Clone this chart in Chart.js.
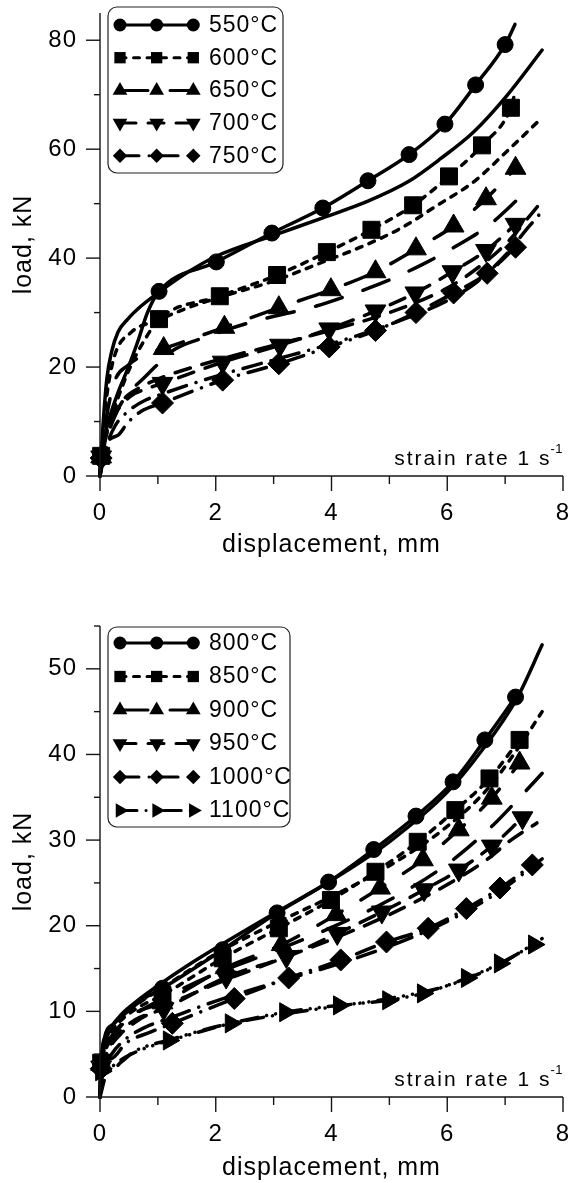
<!DOCTYPE html>
<html><head><meta charset="utf-8">
<script src="https://cdn.jsdelivr.net/npm/chart.js@4.4.1/dist/chart.umd.min.js"></script>
<style>html,body{margin:0;padding:0;background:#fff;width:576px;height:1183px;overflow:hidden}canvas{display:block}</style>
</head><body>
<canvas id="c1" width="576" height="591"></canvas>
<canvas id="c2" width="576" height="592"></canvas>
<script>
// ---------------- DATA ----------------
const temps1 = ['550°C','600°C','650°C','700°C','750°C'];
const temps2 = ['800°C','850°C','900°C','950°C','1000°C','1100°C'];
const xTickVals = [0,2,4,6,8];
const yTickVals1 = [0,20,40,60,80];
const yTickVals2 = [0,10,20,30,40,50];
const xMax = 8, yMax1 = 85, yMax2 = 55;
const xTitle = 'displacement, mm';
const yTitle = 'load, kN';
const noteText = 'strain rate 1 s';
const noteSup = '-1';

// top chart: measured curves (lead points without marker + marker points) and model curves
const ld550 = [[0,0],[0.12,9],[0.3,15],[0.48,19.7],[0.65,24.6],[0.82,30],[7.17,82.9]];
const mk550 = [[0.02,3.7],[1.02,33.9],[2.01,39.3],[2.97,44.6],[3.85,49.2],[4.63,54.2],[5.34,59.0],[5.96,64.6],[6.49,71.8],[7.0,79.2]];
const md550 = [[0,0],[0.05,9],[0.12,18],[0.2,22.8],[0.31,26.4],[0.48,28.8],[0.71,31.2],[1.0,33.6],[1.5,37.3],[2.0,40.3],[3.06,44.4],[3.85,47.4],[4.64,50.5],[5.32,54],[5.89,58.3],[6.45,63.1],[7.02,69.7],[7.64,78.2]];

const ld600 = [[0,0],[0.15,9],[0.3,14],[0.54,20.4],[0.8,25.5],[7.15,69.5]];
const mk600 = [[0.02,3.7],[1.02,28.8],[2.07,33],[3.06,36.9],[3.92,41.1],[4.69,45.2],[5.41,49.7],[6.03,55],[6.6,60.7],[7.1,67.6]];
const md600 = [[0,0],[0.05,8],[0.12,15],[0.25,22],[0.54,26.4],[1.0,28.6],[1.5,30.8],[2.0,32.6],[3.0,35.8],[3.9,39.5],[4.5,42],[5.2,45.5],[5.8,49.5],[6.48,54.2],[7.02,59.5],[7.64,65.8]];

const ld650 = [[0,0],[0.1,10],[0.25,17.3],[0.48,20.3],[0.76,22.2]];
const mk650 = [[0.02,3.5],[1.1,23.4],[2.15,27.3],[3.09,30.9],[3.99,34.2],[4.76,37.5],[5.46,41.7],[6.11,45.9],[6.67,50.9],[7.18,56.5]];
const md650 = [[0,0],[0.1,6],[0.3,12],[0.5,15.3],[0.74,17.8],[1.0,20.5],[1.3,23.3],[1.8,25.4],[2.63,28.3],[3.74,31.2],[4.36,33.4],[4.98,35.9],[5.6,39],[6.17,42.3],[6.74,46.2],[7.3,51.6]];

const ld700 = [[0,0],[0.12,8],[0.3,12],[0.55,14.8],[0.8,16]];
const mk700 = [[0.02,3.5],[1.08,17],[2.12,20.9],[3.11,24],[3.96,27],[4.76,30.3],[5.45,33.6],[6.09,37.5],[6.67,41.4],[7.18,46.2]];
const md700 = [[0,0],[0.08,6],[0.2,10.5],[0.4,14],[0.7,16.3],[1.0,17.8],[2.0,21.2],[3.0,24],[4.0,26.8],[5.0,30],[6.0,34.5],[6.5,38],[7.0,42.5],[7.6,50]];

const ld750 = [[0,0],[0.31,7.5],[0.48,9.8],[0.7,11.8]];
const mk750 = [[0.02,3.3],[1.08,13.4],[2.12,17.6],[3.09,20.6],[3.96,23.7],[4.76,26.7],[5.46,30],[6.11,33.6],[6.69,37.2],[7.18,42]];
const md750 = [[0,0],[0.1,5],[0.25,9],[0.5,12],[0.8,14],[1.0,14.8],[2.0,18.3],[3.0,21.3],[4.0,24.3],[5.0,27.8],[6.0,32.2],[6.5,35.5],[7.0,40.5],[7.42,45.9],[7.64,48.6]];

// bottom chart
const ld800 = [[0,0],[0.08,7],[0.25,8.6],[0.48,10],[0.76,11.5]];
const mk800 = [[0.02,4.1],[1.08,12.7],[2.12,17.2],[3.06,21.5],[3.95,25.1],[4.73,28.9],[5.46,32.8],[6.1,36.8],[6.65,41.7],[7.18,46.7]];
const md800 = [[0,0],[0.05,5],[0.15,7.5],[0.35,9.5],[0.6,11],[1.0,13],[1.5,15.3],[2.0,17.4],[3.0,21.4],[4.0,25.3],[5.0,29.8],[6.0,35.6],[6.6,40.5],[7.2,46.5],[7.64,52.8]];

const ld850 = [[0,0],[0.1,6.5],[0.3,8.5],[0.6,10.2]];
const mk850 = [[0.02,4.0],[1.08,11.9],[2.12,16.2],[3.09,19.7],[3.99,23],[4.76,26.3],[5.49,29.8],[6.14,33.5],[6.73,37.2],[7.25,41.7]];
const md850 = [[0,0],[0.05,4.5],[0.15,7],[0.35,9],[0.6,10.6],[1.0,12.4],[2.0,16.7],[3.0,20.2],[4.0,23.4],[5.0,27],[6.0,31.6],[6.7,36],[7.2,40.5],[7.64,45]];

const ld900 = [[0,0],[0.1,6],[0.3,8],[0.6,9.8]];
const mk900 = [[0.02,3.8],[1.08,11],[2.17,15.1],[3.14,17.8],[4.08,21.3],[4.84,24.4],[5.58,27.7],[6.2,31.2],[6.77,34.9],[7.25,39]];
const md900 = [[0,0],[0.05,4],[0.15,6.3],[0.35,8.2],[0.6,9.6],[1.0,11.2],[2.0,14.4],[3.0,17],[4.0,19.8],[5.0,23],[6.0,27.2],[6.8,31.8],[7.2,34.6],[7.64,37.8]];

const ld950 = [[0,0],[0.12,5.5],[0.3,7.3],[0.6,9]];
const mk950 = [[0.02,3.5],[1.1,10.3],[2.18,14],[3.22,16.4],[4.1,19.1],[4.87,21.6],[5.6,24.2],[6.2,26.5],[6.77,29.3],[7.3,32.6]];
const md950 = [[0,0],[0.05,3.5],[0.15,5.5],[0.35,7.3],[0.6,8.7],[1.0,10.2],[2.0,13.2],[3.0,15.8],[4.0,18.4],[5.0,21.3],[6.0,24.8],[6.7,27.8],[7.1,30],[7.55,32]];

const ld1000 = [[0,0],[0.2,4.5],[0.45,6.3],[0.88,7.6]];
const mk1000 = [[0.02,3.3],[1.25,8.6],[2.32,11.5],[3.26,13.9],[4.16,16],[4.95,18.1],[5.67,19.7],[6.33,22],[6.91,24.4],[7.47,27.1]];
const md1000 = [[0,0],[0.05,3],[0.2,5],[0.45,6.8],[0.8,8.2],[1.2,9.2],[2.0,11.2],[3.0,13.3],[4.0,15.3],[5.0,17.6],[6.0,20.5],[6.9,24],[7.64,27.8]];

const ld1100 = [[0,0],[0.2,3.2],[0.37,4.1],[0.59,5.3],[0.88,6.1]];
const mk1100 = [[0.02,3.0],[1.19,6.6],[2.26,8.6],[3.2,9.9],[4.13,10.7],[4.98,11.3],[5.58,12.1],[6.34,13.9],[6.91,15.6],[7.5,17.8]];
const md1100 = [[0,0],[0.1,2.5],[0.3,4],[0.6,5.2],[1.0,6.2],[2.0,8.2],[3.0,9.5],[4.0,10.5],[5.0,11.5],[6.0,13],[6.9,15.5],[7.64,18.5]];

// ---------------- STYLE ----------------
const FONT = '"Liberation Sans", Arial, Helvetica, sans-serif';
const LW = 3.5;
const DASH = {solid:[], short:[6,7.5], long:[28,22], medium:[16,12], dashdot:[19,10,0.1,10], dashdot2:[17,9,0.1,9,0.1,9]};
const MK = {
  circle:{style:'circle',rot:0,r:8,lr:6.5},
  square:{style:'rect',rot:0,r:12,lr:8},
  up:{style:'triangle',rot:0,r:12,lr:8.5},
  down:{style:'triangle',rot:180,r:12,lr:8.5},
  diamond:{style:'rectRot',rot:0,r:11,lr:7.2},
  right:{style:'triangle',rot:90,r:11,lr:8.5}
};

const series1 = [
  {label:temps1[0], lead:ld550, marks:mk550, model:md550, dash:'solid', marker:'circle'},
  {label:temps1[1], lead:ld600, marks:mk600, model:md600, dash:'short', marker:'square'},
  {label:temps1[2], lead:ld650, marks:mk650, model:md650, dash:'long', marker:'up'},
  {label:temps1[3], lead:ld700, marks:mk700, model:md700, dash:'medium', marker:'down'},
  {label:temps1[4], lead:ld750, marks:mk750, model:md750, dash:'dashdot', marker:'diamond'}
];
const series2 = [
  {label:temps2[0], lead:ld800, marks:mk800, model:md800, dash:'solid', marker:'circle'},
  {label:temps2[1], lead:ld850, marks:mk850, model:md850, dash:'short', marker:'square'},
  {label:temps2[2], lead:ld900, marks:mk900, model:md900, dash:'long', marker:'up'},
  {label:temps2[3], lead:ld950, marks:mk950, model:md950, dash:'medium', marker:'down'},
  {label:temps2[4], lead:ld1000, marks:mk1000, model:md1000, dash:'dashdot', marker:'diamond'},
  {label:temps2[5], lead:ld1100, marks:mk1100, model:md1100, dash:'dashdot2', marker:'right'}
];

function merge(lead, marks){
  return lead.map(p=>({x:p[0],y:p[1],m:0})).concat(marks.map(p=>({x:p[0],y:p[1],m:1}))).sort((a,b)=>a.x-b.x);
}
function buildSets(series){
  const out=[];
  series.forEach(s=>{
    const mk = MK[s.marker];
    out.push({label:s.label+' (model)', data:s.model.map(p=>({x:p[0],y:p[1]})), borderColor:'#000', borderWidth:LW,
      borderDash:DASH[s.dash], borderCapStyle:'round', borderJoinStyle:'round', pointRadius:0, pointHoverRadius:0,
      cubicInterpolationMode:'monotone', fill:false, clip:false});
    out.push({label:s.label, data:merge(s.lead,s.marks), borderColor:'#000', borderWidth:LW,
      borderDash:DASH[s.dash], borderCapStyle:'round', borderJoinStyle:'round',
      pointRadius:c=>(c.raw&&c.raw.m)?mk.r:0, pointHoverRadius:c=>(c.raw&&c.raw.m)?mk.r:0,
      pointStyle:mk.style, pointRotation:mk.rot, pointBackgroundColor:'#000', pointBorderColor:'#000', pointBorderWidth:1,
      cubicInterpolationMode:'monotone', fill:false, clip:false});
  });
  return out;
}

function drawMarker(ctx, type, x, y, r){
  const mk = MK[type];
  if (Chart.helpers && Chart.helpers.drawPoint){
    Chart.helpers.drawPoint(ctx, {pointStyle:mk.style, rotation:mk.rot, radius:r, borderWidth:0}, x, y);
  } else {
    ctx.beginPath(); ctx.arc(x,y,r,0,Math.PI*2); ctx.fill();
  }
}

const decoPlugin = {
  id:'deco',
  beforeDraw(chart){ chart.ctx.letterSpacing = '1px'; },
  afterDraw(chart, args, o){
    const ctx = chart.ctx, ca = chart.chartArea, xs = chart.scales.x, ys = chart.scales.y;
    ctx.save();
    ctx.letterSpacing = '0px';
    ctx.setLineDash([]);
    ctx.strokeStyle = '#151515'; ctx.lineWidth = 1.4; ctx.lineCap = 'butt';
    const ln=(a,b,c,d)=>{ctx.beginPath();ctx.moveTo(a,b);ctx.lineTo(c,d);ctx.stroke();};
    ln(ca.left, ca.top, ca.left, ca.bottom);
    ln(ca.left-0.7, ca.bottom, ca.right, ca.bottom);
    const yv = o.yTicks, ys2 = (yv[1]-yv[0])/2;
    for (let k=0; yv[0]+k*ys2 <= ys.max+1e-9; k++){
      const v = yv[0]+k*ys2, p = ys.getPixelForValue(v);
      ln(ca.left-(k%2===0?14:6), p, ca.left, p);
    }
    const xv = o.xTicks, xs2 = (xv[1]-xv[0])/2;
    for (let k=0; xv[0]+k*xs2 <= xs.max+1e-9; k++){
      const v = xv[0]+k*xs2, p = xs.getPixelForValue(v);
      ln(p, ca.bottom, p, ca.bottom+(k%2===0?15:8));
    }
    const L = o.legend;
    ctx.lineWidth = 1.2; ctx.strokeStyle = '#222'; ctx.fillStyle = '#fff';
    ctx.beginPath();
    if (ctx.roundRect) ctx.roundRect(L.x, L.y, L.w, L.h, 9); else ctx.rect(L.x, L.y, L.w, L.h);
    ctx.fill(); ctx.stroke();
    L.series.forEach((s,i)=>{
      const y = L.row0 + i*L.step;
      ctx.strokeStyle = '#000'; ctx.lineWidth = 3; ctx.lineCap = 'round';
      ctx.setLineDash(DASH[s.dash]);
      ln(L.m0, y, L.m2, y);
      ctx.setLineDash([]);
      ctx.fillStyle = '#000';
      [L.m0, (L.m0+L.m2)/2, L.m2].forEach(mx=>drawMarker(ctx, s.marker, mx, y, MK[s.marker].lr));
      ctx.letterSpacing = '1px';
      ctx.font = '23px '+FONT; ctx.textAlign='left'; ctx.textBaseline='middle';
      ctx.fillText(s.label, L.tx, y+0.5);
      ctx.letterSpacing = '0px';
    });
    ctx.fillStyle = '#000';
    ctx.textBaseline = 'alphabetic'; ctx.textAlign = 'right';
    ctx.font = '13px '+FONT; ctx.letterSpacing='0.5px';
    const sw = ctx.measureText(o.noteSup).width;
    const right = 563, base = ca.bottom - o.noteUp;
    ctx.fillText(o.noteSup, right, base-12);
    ctx.font = '21px '+FONT; ctx.letterSpacing = '2px';
    ctx.fillText(o.noteText, right - sw + 1, base);
    ctx.restore();
  }
};

function makeChart(id, series, yTicks, yMax, padTop, xAxisH, xTitlePad, legend){
  return new Chart(document.getElementById(id), {
    type:'line',
    data:{datasets:buildSets(series)},
    options:{
      responsive:false, animation:false, devicePixelRatio:1,
      layout:{padding:{left:0,right:5,top:padTop,bottom:0}},
      plugins:{legend:{display:false}, tooltip:{enabled:false},
        deco:{yTicks:yTicks, xTicks:xTickVals, legend:Object.assign({series:series}, legend), noteText:noteText, noteSup:noteSup, noteUp:11.5}},
      elements:{line:{tension:0.4}},
      scales:{
        x:{type:'linear', position:'bottom', min:0, max:xMax,
          afterBuildTicks:s=>{s.ticks = xTickVals.map(v=>({value:v}));},
          afterFit:s=>{s.height = xAxisH; s.paddingLeft=0; s.paddingRight=0;},
          grid:{display:false, drawTicks:false}, border:{display:false},
          ticks:{padding:23, color:'#000', font:{family:FONT,size:24}, maxRotation:0, autoSkip:false, callback:v=>String(v)},
          title:{display:true, text:xTitle, color:'#000', font:{family:FONT,size:25}, padding:{top:0,bottom:xTitlePad}}},
        y:{type:'linear', position:'left', min:0, max:yMax,
          afterBuildTicks:s=>{s.ticks = yTicks.map(v=>({value:v}));},
          afterFit:s=>{s.width = 100; s.paddingTop=0; s.paddingBottom=0;},
          grid:{display:false, drawTicks:false}, border:{display:false},
          ticks:{padding:23, color:'#000', font:{family:FONT,size:24}, autoSkip:false, callback:v=>String(v)},
          title:{display:true, text:yTitle, color:'#000', font:{family:FONT,size:25}, padding:{top:9,bottom:0}}}
      }
    },
    plugins:[decoPlugin]
  });
}

makeChart('c1', series1, yTickVals1, yMax1, 5, 115, 31,
  {x:108, y:7, w:175, h:166, row0:25, step:32.7, m0:120, m2:193.3, tx:209});
makeChart('c2', series2, yTickVals2, yMax2, 35, 86, 0,
  {x:108, y:36, w:182, h:200, row0:52, step:33.5, m0:120, m2:193.3, tx:209});
</script>
</body></html>
